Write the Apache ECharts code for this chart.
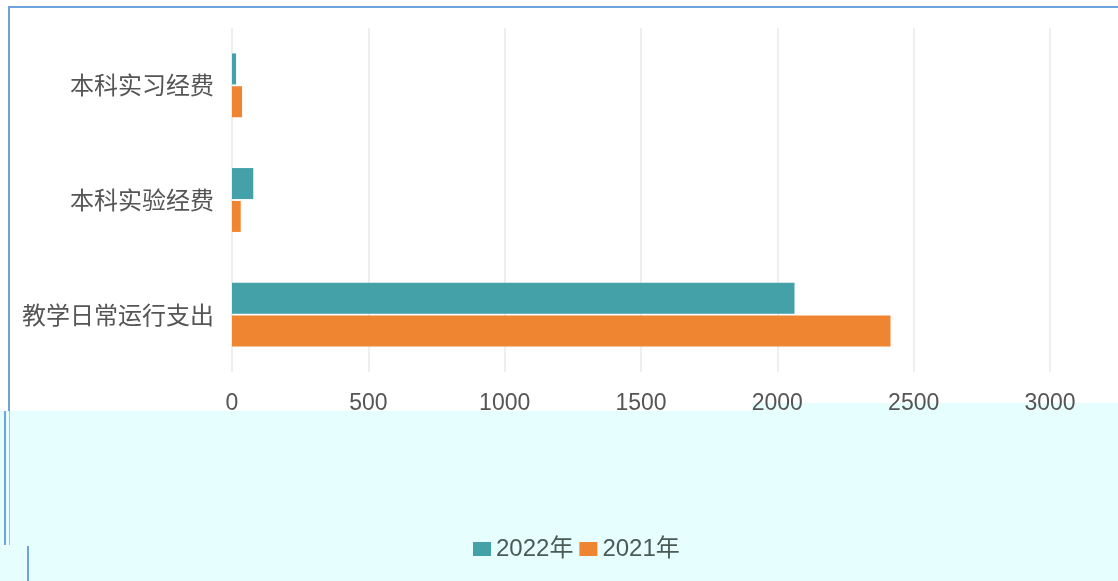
<!DOCTYPE html>
<html>
<head>
<meta charset="utf-8">
<script src="https://cdn.jsdelivr.net/npm/echarts@6/dist/echarts.min.js"></script>
<style>
  html, body { margin: 0; padding: 0; background: #fff; }
  #barChart { width: 1118px; height: 581px; }
</style>
</head>
<body>
<div id="barChart"></div>
<script>
const categories = ["教学日常运行支出", "本科实验经费", "本科实习经费"];
const legendNames = ["2022年", "2021年"];
const values2022 = [2063, 78, 15];
const values2021 = [2415, 32, 37];
const xTicks = { min: 0, max: 3000, interval: 500 };

const colorList = ["#44a1a8", "#ef8431"];
const textColor = "#555";
const font = "'Liberation Sans', 'Noto Sans CJK SC', sans-serif";

let myChart = echarts.init(document.getElementById("barChart"));
myChart.setOption({
  animation: false,
  textStyle: { fontFamily: font },
  graphic: [
    // light cyan band behind the lower area
    { type: "rect", z: -10, shape: { x: 0, y: 411, width: 1118, height: 170 }, style: { fill: "#e6fefe" } },
    { type: "rect", z: -10, shape: { x: 752, y: 403, width: 366, height: 10 }, style: { fill: "#e6fefe" } },
    // container border (top and left only)
    { type: "rect", z: -5, shape: { x: 8, y: 6, width: 1110, height: 2 }, style: { fill: "#6ea3db" } },
    { type: "rect", z: -5, shape: { x: 8, y: 6, width: 2, height: 405 }, style: { fill: "#6ea3db" } },
    { type: "rect", z: -5, shape: { x: 4, y: 411, width: 2, height: 134 }, style: { fill: "#6ea3db" } },
    { type: "rect", z: -5, shape: { x: 9, y: 411, width: 1, height: 134 }, style: { fill: "#9cc4ea" } },
    { type: "rect", z: -5, shape: { x: 27, y: 546, width: 2, height: 35 }, style: { fill: "#6ea3db" } }
  ],
  grid: {
    left: 232,
    right: 68,
    top: 28,
    bottom: 209,
    containLabel: false,
  },
  legend: {
    data: legendNames,
    left: 468,
    top: 532,
    itemWidth: 18,
    itemHeight: 14,
    itemGap: 6,
    icon: "rect",
    textStyle: {
      color: "#4a5a55",
      fontSize: 24,
      fontFamily: font,
    },
  },
  xAxis: {
    type: "value",
    min: xTicks.min,
    max: xTicks.max,
    interval: xTicks.interval,
    axisLine: { show: false },
    axisTick: { show: false },
    axisLabel: {
      color: textColor,
      fontSize: 23,
      margin: 20,
      formatter: (v) => String(v),
    },
    splitLine: {
      lineStyle: { color: "#eeeeee", width: 2 },
    },
  },
  yAxis: {
    type: "category",
    data: categories,
    axisLine: { show: false },
    axisTick: { show: false },
    axisLabel: {
      color: textColor,
      fontSize: 24,
      margin: 18,
      fontFamily: "'Noto Sans CJK SC', sans-serif",
    },
  },
  series: [
    {
      name: legendNames[0],
      type: "bar",
      data: values2022,
      barWidth: 31,
      barGap: "6%",
      itemStyle: { color: colorList[0] },
    },
    {
      name: legendNames[1],
      type: "bar",
      data: values2021,
      barWidth: 31,
      barGap: "6%",
      itemStyle: { color: colorList[1] },
    },
  ],
});
</script>
</body>
</html>
